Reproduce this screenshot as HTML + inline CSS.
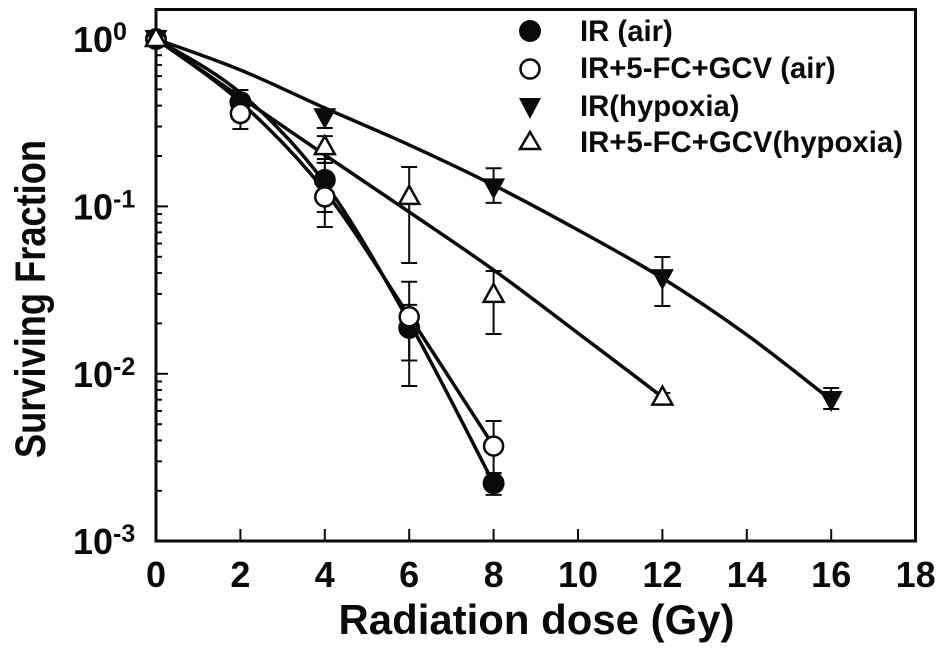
<!DOCTYPE html>
<html>
<head>
<meta charset="utf-8">
<style>
html,body{margin:0;padding:0;background:#fff}
svg{display:block;font-family:"Liberation Sans",Arial,sans-serif;font-weight:bold;fill:#0a0a0a}
</style>
</head>
<body>
<svg id="chart" width="945" height="650" viewBox="0 0 945 650" xmlns="http://www.w3.org/2000/svg">
  <rect x="156" y="9.5" width="759.5" height="531.5" fill="none" stroke="#0a0a0a" stroke-width="3"/>
  <g id="axes"></g>
  <g id="series"></g>
  <text transform="translate(45,299) rotate(-90)" text-anchor="middle" font-size="43" textLength="318" lengthAdjust="spacingAndGlyphs">Surviving Fraction</text>
  <text x="536.5" y="634" text-anchor="middle" font-size="42" textLength="396" lengthAdjust="spacingAndGlyphs">Radiation dose (Gy)</text>
  <g>
    <g>
      <circle cx="530" cy="31" r="11" fill="#0a0a0a"/>
      <text x="580" y="41" font-size="29.3">IR (air)</text>
    </g>
    <g>
      <circle cx="530" cy="69" r="9.5" fill="#fff" stroke="#0a0a0a" stroke-width="2.5"/>
      <text x="580" y="78" font-size="29.3">IR+5-FC+GCV (air)</text>
    </g>
    <g>
      <polygon points="519,98 541,98 530,119" fill="#0a0a0a"/>
      <text x="580" y="116" font-size="29.3">IR(hypoxia)</text>
    </g>
    <g>
      <polygon points="530,132 520,149 540,149" fill="#fff" stroke="#0a0a0a" stroke-width="2.5"/>
      <text x="580" y="152" font-size="29.3" textLength="323" lengthAdjust="spacingAndGlyphs">IR+5-FC+GCV(hypoxia)</text>
    </g>
  </g>
</svg>
<script>
const xTicks = [0, 2, 4, 6, 8, 10, 12, 14, 16, 18];
const yDecades = [0, -1, -2, -3];
const minorMultipliers = [2, 3, 4, 5, 6, 7, 8, 9];

const airDoses = [0, 2, 4, 6, 8];
const airValues = [1, 0.42, 0.144, 0.0188, 0.00222];
const airUpper = [1, 0.496, 0.192, 0.0258, 0.00255];
const airLower = [1, 0.366, 0.0926, 0.00846, 0.00189];
const airFit = [1, 0.476, 0.138, 0.0204, 0.00222];

const drugAirDoses = [0, 2, 4, 6, 8];
const drugAirValues = [1, 0.359, 0.114, 0.0219, 0.0037];
const drugAirUpper = [1, 0.432, 0.182, 0.0355, 0.00522];
const drugAirLower = [1, 0.29, 0.0753, 0.012, 0.00255];
const drugAirFit = [1, 0.42, 0.1236, 0.0221, 0.0037];

const hypoxiaDoses = [0, 4, 8, 12, 16];
const hypoxiaValues = [1, 0.341, 0.13, 0.0373, 0.00697];
const hypoxiaUpper = [1, 0.377, 0.169, 0.0499, 0.00822];
const hypoxiaLower = [1, 0.294, 0.105, 0.0254, 0.00616];
const hypoxiaFitDoses = [0, 2, 4, 6, 8, 10, 12, 14, 16];
const hypoxiaFit = [1, 0.653, 0.387, 0.233, 0.134, 0.0723, 0.0373, 0.0171, 0.00697];

const drugHypoxiaDoses = [0, 4, 6, 8, 12];
const drugHypoxiaValues = [1, 0.226, 0.114, 0.0296, 0.0072];
const drugHypoxiaUpper = [1, 0.263, 0.172, 0.0411, 0.00768];
const drugHypoxiaLower = [1, 0.182, 0.0459, 0.0173, 0.00698];
const drugHypoxiaFitDoses = [0, 2, 4, 6, 8, 10, 12];
const drugHypoxiaFit = [1, 0.45, 0.203, 0.0926, 0.0417, 0.0175, 0.00727];

const NS = 'http://www.w3.org/2000/svg';
const INK = '#0a0a0a';
function xScale(d) { return 156 + d * 42.2; }
function yScale(v) { return 39 - Math.log10(v) * 167.4; }
function make(parent, tag, attrs) {
  const el = document.createElementNS(NS, tag);
  for (const k in attrs) el.setAttribute(k, attrs[k]);
  parent.appendChild(el);
  return el;
}
function curvePath(xs, ys) {
  const p = xs.map((x, i) => [xScale(x), yScale(ys[i])]);
  let d = 'M' + p[0][0] + ' ' + p[0][1];
  for (let i = 0; i < p.length - 1; i++) {
    const a = p[Math.max(0, i - 1)], b = p[i], c = p[i + 1], e = p[Math.min(p.length - 1, i + 2)];
    d += ' C' + (b[0] + (c[0] - a[0]) / 6) + ' ' + (b[1] + (c[1] - a[1]) / 6) + ' ' +
         (c[0] - (e[0] - b[0]) / 6) + ' ' + (c[1] - (e[1] - b[1]) / 6) + ' ' + c[0] + ' ' + c[1];
  }
  return d;
}

const axes = document.getElementById('axes');
xTicks.forEach(function (t) {
  const x = xScale(t);
  if (t > 0 && t < 18) {
    const tick = make(axes, 'line', { x1: x, x2: x, y1: 529, y2: 541, stroke: INK, 'stroke-width': 2 });
    
    
  }
  const label = make(axes, 'text', { x: x, y: 587, 'text-anchor': 'middle', 'font-size': 36 });
  
  
  label.textContent = t;
});
yDecades.forEach(function (dec) {
  const y = yScale(Math.pow(10, dec));
  if (dec < 0 && dec > -3) {
    const tick = make(axes, 'line', { x1: 156, x2: 168, y1: y, y2: y, stroke: INK, 'stroke-width': 2 });
    
    
  }
  const label = make(axes, 'text', { x: 73, y: y + 13, 'font-size': 36 });
  
  
  label.appendChild(document.createTextNode('10'));
  const sup = make(label, 'tspan', { dy: -12, 'font-size': 25 });
  sup.textContent = dec;
  if (dec > -3) {
    minorMultipliers.forEach(function (m) {
      const my = yScale(m * Math.pow(10, dec - 1));
      const minor = make(axes, 'line', { x1: 156, x2: 162, y1: my, y2: my, stroke: INK, 'stroke-width': 2 });
      
      
    });
  }
});

const seriesRoot = document.getElementById('series');
function errorBars(group, doses, upper, lower) {
  doses.forEach(function (d, i) {
    if (d === 0) return;
    const x = xScale(d), yu = yScale(upper[i]), yl = yScale(lower[i]);
    const stem = make(group, 'line', { x1: x, x2: x, y1: yu, y2: yl, stroke: INK, 'stroke-width': 2 });
    
    
    [yu, yl].forEach(function (y) {
      const cap = make(group, 'line', { x1: x - 8, x2: x + 8, y1: y, y2: y, stroke: INK, 'stroke-width': 2 });
      
      
    });
  });
}
function fitLine(group, xs, ys) {
  const line = make(group, 'path', { d: curvePath(xs, ys), fill: 'none', stroke: INK, 'stroke-width': 3.5 });
  
  
}
function marker(group, kind, x, y) {
  let m;
  if (kind === 'filled-circle') {
    m = make(group, 'circle', { cx: x, cy: y, r: 11, fill: INK });
  } else if (kind === 'open-circle') {
    m = make(group, 'circle', { cx: x, cy: y, r: 9.5, fill: '#fff', stroke: INK, 'stroke-width': 2.5 });
  } else if (kind === 'filled-triangle') {
    m = make(group, 'polygon', { points: (x - 11.5) + ',' + (y - 9) + ' ' + (x + 11.5) + ',' + (y - 9) + ' ' + x + ',' + (y + 12), fill: INK });
  } else {
    m = make(group, 'polygon', { points: x + ',' + (y - 11) + ' ' + (x - 10) + ',' + (y + 7) + ' ' + (x + 10) + ',' + (y + 7), fill: '#fff', stroke: INK, 'stroke-width': 2.5 });
  }
  
  
}
function drawLayer(doses, upper, lower, fitX, fitY) {
  const g = make(seriesRoot, 'g', {});
  
  
  errorBars(g, doses, upper, lower);
  fitLine(g, fitX, fitY);
}
function drawMarkers(kind, doses, values) {
  const g = make(seriesRoot, 'g', {});
  
  
  doses.forEach(function (d, i) { marker(g, kind, xScale(d), yScale(values[i])); });
}
drawLayer(airDoses, airUpper, airLower, airDoses, airFit);
drawLayer(drugAirDoses, drugAirUpper, drugAirLower, drugAirDoses, drugAirFit);
drawLayer(hypoxiaDoses, hypoxiaUpper, hypoxiaLower, hypoxiaFitDoses, hypoxiaFit);
drawLayer(drugHypoxiaDoses, drugHypoxiaUpper, drugHypoxiaLower, drugHypoxiaFitDoses, drugHypoxiaFit);
drawMarkers('filled-circle', airDoses, airValues);
drawMarkers('open-circle', drugAirDoses, drugAirValues);
drawMarkers('filled-triangle', hypoxiaDoses, hypoxiaValues);
drawMarkers('open-triangle', drugHypoxiaDoses, drugHypoxiaValues);
</script>
</body>
</html>
